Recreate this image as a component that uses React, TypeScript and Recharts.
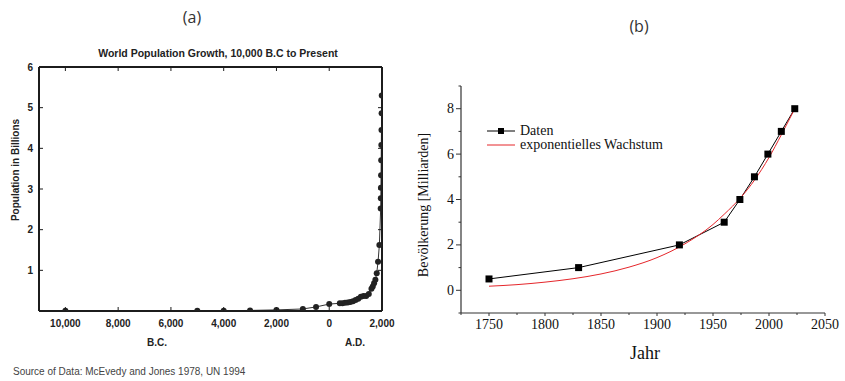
import React from 'react'
import { LineChart, Line, XAxis, YAxis } from 'recharts'

// (a) world population, years (negative = B.C.) and billions
const yearsA = [-10000, -5000, -4000, -3000, -2000, -1000, -500, 0, 400, 500, 600, 700, 800, 900, 1000, 1100, 1200, 1300, 1400, 1500, 1600, 1650, 1700, 1750, 1800, 1850, 1900, 1950, 1955, 1960, 1965, 1970, 1975, 1980, 1985, 1990]
const popA = [0.004, 0.005, 0.007, 0.014, 0.027, 0.05, 0.1, 0.17, 0.19, 0.19, 0.2, 0.21, 0.22, 0.24, 0.27, 0.3, 0.35, 0.37, 0.37, 0.42, 0.55, 0.6, 0.68, 0.77, 0.93, 1.21, 1.62, 2.52, 2.77, 3.03, 3.34, 3.71, 4.08, 4.45, 4.86, 5.3]
const xTicksA = [-10000, -8000, -6000, -4000, -2000, 0, 2000]
const yTicksA = [0, 1, 2, 3, 4, 5, 6]

// (b) Daten + exponentielles Wachstum
const yearsB = [1750, 1830, 1920, 1960, 1974, 1987, 1999, 2011, 2023]
const popB = [0.5, 1, 2, 3, 4, 5, 6, 7, 8]
const expYears = [1750, 1775, 1800, 1825, 1850, 1875, 1900, 1925, 1950, 1960, 1975, 1987, 2000, 2011, 2023]
const expPop = [0.18, 0.25, 0.36, 0.51, 0.72, 1.02, 1.44, 2.05, 2.9, 3.35, 4.1, 4.85, 5.85, 6.85, 8.0]
const xTicksB = [1725, 1750, 1775, 1800, 1825, 1850, 1875, 1900, 1925, 1950, 1975, 2000, 2025, 2050]
const yTicksB = [-1, 0, 1, 2, 3, 4, 5, 6, 7, 8, 9]

const dataA = yearsA.map((year, i) => ({ year, pop: popA[i] }))
const dataB = yearsB.map((year, i) => ({ year, pop: popB[i] }))
const dataExp = expYears.map((year, i) => ({ year, pop: expPop[i] }))

const sansA = '"Liberation Sans", Arial, sans-serif'
const serifB = '"Liberation Serif", "Times New Roman", serif'
const inkA = '#1c1c1c'

const abs = (x: number, y: number): React.CSSProperties => ({
  position: 'absolute',
  left: x,
  top: y,
  transform: 'translate(-50%, -50%)',
  whiteSpace: 'nowrap',
  lineHeight: 1
})

// ---- tick renderers for (a), ticks point inward
const BottomTickA = (props: any) => {
  const { x, y, payload } = props
  const v = payload.value as number
  return (
    <g>
      <line x1={x} y1={y} x2={x} y2={y - 4} stroke={inkA} strokeWidth={1} />
      <text x={x} y={y + 12} textAnchor="middle" dominantBaseline="central"
        fontFamily={sansA} fontWeight="bold" fontSize={10} fill="#222">
        {Math.abs(v).toLocaleString('en-US')}
      </text>
    </g>
  )
}

const TopTickA = (props: any) => {
  const { x, y } = props
  return <line x1={x} y1={y} x2={x} y2={y + 4} stroke={inkA} strokeWidth={1} />
}

const LeftTickA = (props: any) => {
  const { x, y, payload } = props
  const v = payload.value as number
  if (v === 0) return <g />
  return (
    <g>
      {v < 6 && <line x1={x} y1={y} x2={x + 4} y2={y} stroke={inkA} strokeWidth={1} />}
      <text x={x - 6} y={y} textAnchor="end" dominantBaseline="central"
        fontFamily={sansA} fontWeight="bold" fontSize={10} fill="#222">
        {v}
      </text>
    </g>
  )
}

const RightTickA = (props: any) => {
  const { x, y, payload } = props
  const v = payload.value as number
  if (v === 0 || v === 6) return <g />
  return <line x1={x} y1={y} x2={x - 4} y2={y} stroke={inkA} strokeWidth={1} />
}

// ---- tick renderers for (b), outward, labels on every second tick
const BottomTickB = (props: any) => {
  const { x, y, payload } = props
  const v = payload.value as number
  const major = v % 50 === 0
  return (
    <g>
      <line x1={x} y1={y} x2={x} y2={y + (major ? 3 : 2)} stroke="#333" strokeWidth={1} />
      {major && (
        <text x={x} y={y + 11} textAnchor="middle" dominantBaseline="central"
          fontFamily={serifB} fontSize={14} fill="#111">
          {v}
        </text>
      )}
    </g>
  )
}

const LeftTickB = (props: any) => {
  const { x, y, payload } = props
  const v = payload.value as number
  const major = v >= 0 && v % 2 === 0
  return (
    <g>
      <line x1={x} y1={y} x2={x - (major ? 5 : 2.5)} y2={y} stroke="#333" strokeWidth={1} />
      {major && (
        <text x={x - 7} y={y} textAnchor="end" dominantBaseline="central"
          fontFamily={serifB} fontSize={14} fill="#111">
          {v}
        </text>
      )}
    </g>
  )
}

const SquareDot = (props: any) => {
  const { cx, cy } = props
  if (cx == null || cy == null) return <g />
  return <rect x={cx - 3.5} y={cy - 3.5} width={7} height={7} fill="#000" />
}

export default function App() {
  return (
    <div style={{ position: 'fixed', left: 0, top: 0, width: 845, height: 381, background: '#fff', overflow: 'hidden' }}>
      <div style={{ position: 'absolute', left: 0, top: 0 }}>
        <LineChart width={420} height={381} data={dataA} margin={{ top: 66, right: 37, bottom: 40, left: 0 }}>
          <XAxis dataKey="year" type="number" domain={[-11000, 2000]} ticks={xTicksA} interval={0} allowDataOverflow
            height={30} tickSize={0} tickMargin={0} tickLine={false} tick={BottomTickA}
            axisLine={{ stroke: inkA, strokeWidth: 2 }} />
          <XAxis xAxisId="top" dataKey="year" orientation="top" type="number" domain={[-11000, 2000]} ticks={xTicksA}
            interval={0} allowDataOverflow height={1} tickSize={0} tickMargin={0} tickLine={false} tick={TopTickA}
            axisLine={{ stroke: inkA, strokeWidth: 2 }} />
          <YAxis type="number" domain={[0, 6]} ticks={yTicksA} interval={0} width={39} allowDataOverflow
            tickSize={0} tickMargin={0} tickLine={false} tick={LeftTickA}
            axisLine={{ stroke: inkA, strokeWidth: 2 }} />
          <YAxis yAxisId="right" orientation="right" type="number" domain={[0, 6]} ticks={yTicksA} interval={0}
            width={1} allowDataOverflow tickSize={0} tickMargin={0} tickLine={false} tick={RightTickA}
            axisLine={{ stroke: inkA, strokeWidth: 2 }} />
          <Line xAxisId="top" yAxisId="right" dataKey="pop" stroke="none" dot={false}
            isAnimationActive={false} legendType="none" />
          <Line dataKey="pop" type="linear" stroke="#333" strokeWidth={1}
            dot={{ r: 3, fill: '#222', stroke: '#222', strokeWidth: 0 }} isAnimationActive={false} />
        </LineChart>
      </div>

      <div style={{ position: 'absolute', left: 420, top: 0 }}>
        <LineChart width={425} height={381} margin={{ top: 86, right: 20, bottom: 38, left: 0 }}>
          <XAxis dataKey="year" type="number" domain={[1725, 2050]} ticks={xTicksB} interval={0} allowDataOverflow
            height={30} tickSize={0} tickMargin={0} tickLine={false} tick={BottomTickB}
            axisLine={{ stroke: '#333', strokeWidth: 1.2 }} />
          <YAxis type="number" domain={[-1, 9]} ticks={yTicksB} interval={0} width={41} allowDataOverflow
            tickSize={0} tickMargin={0} tickLine={false} tick={LeftTickB}
            axisLine={{ stroke: '#333', strokeWidth: 1.2 }} />
          <Line data={dataB} dataKey="pop" type="linear" stroke="#000" strokeWidth={1}
            dot={<SquareDot />} isAnimationActive={false} />
          <Line data={dataExp} dataKey="pop" type="monotone" stroke="#e5262b" strokeWidth={1}
            dot={false} isAnimationActive={false} />
        </LineChart>
      </div>

      {/* panel labels */}
      <div style={{ ...abs(192, 17), fontFamily: '"Open Sans", sans-serif', fontSize: 16, color: '#333' }}>(a)</div>
      <div style={{ ...abs(639, 26), fontFamily: '"Open Sans", sans-serif', fontSize: 16, color: '#333' }}>(b)</div>

      {/* (a) texts */}
      <div style={{ ...abs(218, 53), fontFamily: sansA, fontWeight: 'bold', fontSize: 10.5, color: '#222' }}>
        World Population Growth, 10,000 B.C to Present
      </div>
      <div style={{ ...abs(16, 170), transform: 'translate(-50%, -50%) rotate(-90deg)', fontFamily: sansA, fontWeight: 'bold', fontSize: 10, color: '#222' }}>
        Population in Billions
      </div>
      <div style={{ ...abs(157, 343), fontFamily: sansA, fontWeight: 'bold', fontSize: 10, color: '#222' }}>B.C.</div>
      <div style={{ ...abs(355, 343), fontFamily: sansA, fontWeight: 'bold', fontSize: 10, color: '#222' }}>A.D.</div>
      <div style={{ position: 'absolute', left: 13, top: 367, whiteSpace: 'nowrap', lineHeight: 1, fontFamily: sansA, fontSize: 10, color: '#444' }}>
        Source of Data: McEvedy and Jones 1978, UN 1994
      </div>

      {/* (b) texts */}
      <div style={{ ...abs(424, 205), transform: 'translate(-50%, -50%) rotate(-90deg)', fontFamily: serifB, fontSize: 14, color: '#111' }}>
        Bevölkerung [Milliarden]
      </div>
      <div style={{ ...abs(645, 353), fontFamily: serifB, fontSize: 18, color: '#111' }}>Jahr</div>

      <div style={{ position: 'absolute', left: 486, top: 124, fontFamily: serifB, fontSize: 14, color: '#111', lineHeight: '14px' }}>
        <div style={{ display: 'flex', alignItems: 'center', height: 14 }}>
          <svg width={30} height={14}>
            <line x1={1} y1={7} x2={29} y2={7} stroke="#000" strokeWidth={1} />
            <rect x={12} y={4} width={6} height={6} fill="#000" />
          </svg>
          <span style={{ marginLeft: 4 }}>Daten</span>
        </div>
        <div style={{ display: 'flex', alignItems: 'center', height: 14 }}>
          <svg width={30} height={14}>
            <line x1={1} y1={7} x2={29} y2={7} stroke="#e5262b" strokeWidth={1} />
          </svg>
          <span style={{ marginLeft: 4 }}>exponentielles Wachstum</span>
        </div>
      </div>
    </div>
  )
}
